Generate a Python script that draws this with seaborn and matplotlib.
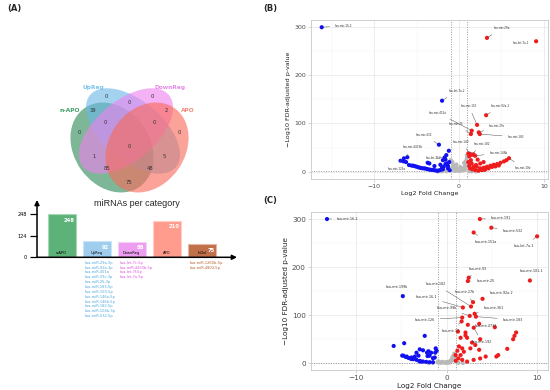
import matplotlib
matplotlib.use("Agg")
import matplotlib.pyplot as plt
import seaborn as sns
import pandas as pd
import numpy as np
from matplotlib.patches import Ellipse

sns.set_theme(style="white")
plt.rcParams['font.family'] = ['DejaVu Sans']

# ---------------- data: Venn ----------------
venn_sets = ["n-APO", "UpReg", "DownReg", "APO"]
venn_counts = [0, 0, 0, 0, 39, 0, 2, 0, 0, 0, 1, 5, 85, 48, 75]

# ---------------- data: bar chart ----------------
bar_cats = ["n-APO", "UpReg", "DownReg", "APO", "InDel"]
bar_values = [248, 92, 88, 210, 75]
bar_ticks = [0, 124, 248]
up_list = ["hsa-miR-29a-3p", "hsa-miR-92a-3p", "hsa-miR-451a", "hsa-miR-29c-3p",
           "hsa-miR-25-3p", "hsa-miR-183-5p", "hsa-miR-150-5p", "hsa-miR-146a-5p",
           "hsa-miR-146b-5p", "hsa-miR-182-5p", "hsa-miR-106b-3p", "hsa-miR-532-5p"]
down_list = ["hsa-let-7c-5p", "hsa-miR-4433b-5p", "hsa-let-7f-5p", "hsa-let-7a-5p"]
indel_list = ["hsa-miR-1260b-5p", "hsa-miR-4803-5p"]

# ---------------- data: volcano B ----------------
b_down_x = [-16.2, -2.0, -2.37, -6.9, -6.5, -6.55, -6.25, -6.1,
            -5.9, -5.6, -5.4, -5.2, -5.0, -4.8, -4.6, -4.4, -4.2, -4.0,
            -3.8, -3.6, -3.4, -3.2, -3.0, -2.8, -2.6, -2.4, -2.2, -2.0,
            -1.9, -1.8, -1.7, -1.6, -1.5, -1.4, -1.3, -1.2, -1.15,
            -3.7, -3.5, -2.9, -2.2, -1.9, -1.6, -1.3, -1.1]
b_down_y = [299, 147, 56, 22.8, 27.7, 21.5, 20, 30,
            13.9, 12.8, 12.5, 11.5, 10.4, 9.2, 8.3, 7.5, 7.0, 6.9,
            5.8, 4.9, 4.2, 3.8, 3.5, 2.8, 2.1, 2.5, 3.5, 8.3,
            24, 10.4, 29.5, 16, 34.4, 17.2, 6.9, 43.4, 20,
            18.6, 17.2, 11.8, 14.5, 5, 25, 12, 3]
b_up_x = [3.3, 9.1, 3.2, 2.13, 2.33, 2.45, 1.5, 1.4, 5.9,
          1.1, 1.3, 1.5, 1.7, 1.2, 1.9,
          2.49, 2.1, 2.9, 3.3, 3.7, 4.1, 4.5, 4.9, 5.3, 5.6,
          1.5, 1.4, 1.7, 1.9, 2.3, 2.7, 3.1, 3.5, 3.9, 4.3, 4.7, 1.3, 1.55, 2.0, 2.5, 2.9,
          1.1, 1.2, 2.2, 3.0]
b_up_y = [277, 270, 117, 97, 81.5, 78, 85, 78, 28,
          38, 37, 35, 36, 32, 33,
          7, 10.4, 8.3, 10.4, 12.5, 14.5, 15.9, 18.6, 21.4, 24,
          17, 24, 10, 3.5, 2, 3.5, 5, 7, 10, 11, 13, 7, 5, 14, 17, 20,
          20, 12, 25, 4]
b_ns_x = [-1.0, -0.9, -0.8, -0.7, -0.6, -0.5, -0.4, -0.3, -0.2, -0.1,
          0.0, 0.1, 0.2, 0.3, 0.4, 0.5, 0.6, 0.7, 0.8, 0.9,
          -0.97, -0.77, -0.65, 0.14, 0.73, 0.93, 0.93, 0.33, -0.26, -0.45,
          -1.5, -2.0, -2.5, 1.2, 1.5, 2.0, 0.6, -0.3, 0.8, 1.0]
b_ns_y = [6, 4, 8, 3, 5, 2, 7, 3, 4, 2,
          3, 5, 2, 6, 4, 3, 8, 5, 10, 12,
          24, 20, 13, 10, 14, 28, 34, 7, 7, 3.5,
          1, 0.8, 0.5, 1, 0.8, 0.5, 18, 15, 22, 16]
b_lab_names = ["hsa-mir-16-2", "hsa-mir-29a", "hsa-let-7a-1", "hsa-let-7a-2", "hsa-mir-150",
               "hsa-mir-92a-2", "hsa-mir-451a", "hsa-mir-29c", "hsa-mir-25", "hsa-mir-183",
               "hsa-mir-432", "hsa-mir-182", "hsa-mir-140", "hsa-mir-4433b", "hsa-mir-146b",
               "hsa-let-7f-2", "hsa-mir-125a", "hsa-mir-10b"]
b_lab_px = [-16.2, 3.3, 9.1, -2.0, 2.13, 3.2, 1.5, 2.33, 1.4, 2.45, -2.37, 1.5, 1.3, -6.25, 1.9, -1.7, -6.9, 5.9]
b_lab_py = [299, 277, 270, 147, 97, 117, 85, 81.5, 78, 78, 56, 35, 37, 30, 33, 29.5, 22.8, 28]
b_lab_tx = [-13.6, 5.05, 7.3, -0.28, 1.15, 4.85, -2.45, 4.5, -0.3, 6.7, -4.1, 2.7, 0.2, -5.5, 4.65, -3.0, -7.4, 7.6]
b_lab_ty = [302, 297, 266, 167, 136, 136, 122, 95, 99, 72, 76, 58, 62, 51, 38.7, 27.7, 5.6, 7]

# ---------------- data: volcano C ----------------
c_down_x = [-13.2, -4.83, -2.41, -4.68, -5.84,
            -4.76, -4.4, -4.04, -3.68, -3.32, -2.96, -2.6, -2.24, -1.87, -1.5,
            -3.32, -2.96, -2.6, -2.16, -2.0, -1.7, -2.1, -1.2, -1.1, -1.25,
            -3.1, -3.5, -1.5, -1.87, -3.86,
            -4.9, -4.5, -4.2, -3.9, -3.0, -2.8, -1.3]
c_down_y = [300, 139.6, 57, 41.7, 36,
            15.8, 14, 10.5, 8.5, 7.1, 5, 3.6, 2.9, 2.2, 2.2,
            22, 29, 27, 22, 25, 22, 15, 31, 26, 22,
            15.8, 14, 10.5, 15.8, 12,
            16, 13, 11, 9, 4, 3.5, 12]
c_up_x = [3.68, 4.94, 2.99, 10.0, 2.45, 2.35, 9.2, 3.97, 2.92, 2.70,
          1.8, 3.1, 3.24, 2.56, 1.73, 1.66, 2.35, 3.6, 3.0, 5.33,
          7.68, 7.5, 7.35, 1.26, 2.09, 2.09, 1.55, 2.27, 3.71, 2.81,
          3.17, 1.37, 1.73, 1.19, 1.91, 1.55, 2.63, 3.6, 4.32, 3.71,
          1.73, 2.27, 5.5, 5.7, 6.7, 1.0, 1.3, 2.99, 1.01]
c_up_y = [300, 282, 272, 264, 178, 171, 172, 134, 127, 118,
          116, 103, 97, 98.5, 95, 87, 80, 82, 74, 75,
          64, 57, 50, 66, 64, 58, 53, 53, 50, 43,
          38, 35, 31, 26, 24, 17, 31, 28, 14, 10,
          7, 3.5, 14, 17, 30, 17, 10, 7, 5]
c_ns_x = [-1.0, -0.8, -0.6, -0.4, -0.2, 0.0, 0.2, 0.4, 0.5, 0.6,
          0.7, 0.75, 0.8, 0.85, 0.9, 0.95, 0.65, 0.55, 0.45, 0.35,
          -0.9, -0.5, -0.1, 0.1, 0.3, -1.5, -2.0, 1.3, 1.8]
c_ns_y = [2, 1.5, 1, 2, 1.5, 2.5, 3, 4, 6, 8,
          10, 14, 17, 20, 12, 9, 13, 5, 3, 2,
          4, 3, 1, 1, 1.5, 0.8, 0.5, 0.9, 0.4]
c_lab_names = ["hsa-mir-16-2", "hsa-mir-191", "hsa-mir-532", "hsa-mir-151a", "hsa-let-7a-1",
               "hsa-mir-93", "hsa-mir-25", "hsa-mir-101-1", "hsa-mir-199b", "hsa-mir-182",
               "hsa-mir-92a-2", "hsa-mir-27b", "hsa-mir-16-1", "hsa-mir-361", "hsa-mir-99b",
               "hsa-mir-183", "hsa-mir-126", "hsa-mir-4732", "hsa-mir-17", "hsa-mir-192"]
c_lab_px = [-13.2, 3.68, 4.94, 2.99, 10.0, 2.45, 2.35, 9.2, -4.83, 2.70,
            3.97, 2.92, 1.8, 3.1, 2.56, 3.24, 1.73, 2.35, 1.66, 3.0]
c_lab_py = [300, 300, 282, 272, 264, 178, 171, 172, 139.6, 118,
            134, 127, 116, 103, 98.5, 97, 95, 80, 87, 74]
c_lab_tx = [-10.9, 6.0, 7.3, 4.36, 8.6, 3.5, 4.3, 9.4, -5.5, -1.15,
            6.05, 2.0, -2.2, 5.2, 0.0, 7.3, -2.4, 4.3, 0.47, 3.9]
c_lab_ty = [301, 302, 276, 252, 244, 197, 171, 192, 158, 164,
            147, 148, 138, 115, 115, 91, 91, 78, 67, 44]

# ---------------- figure ----------------
W, H = 550, 390
fig = plt.figure(figsize=(W / 100, H / 100), dpi=100)

# ---- Venn diagram (pixel coordinates) ----
axv = fig.add_axes([0, 0, 280 / W, 1])
axv.set_xlim(0, 280)
axv.set_ylim(390, 0)
axv.set_aspect("equal", adjustable="datalim")
axv.axis("off")
venn_colors = ["#2E8B57", "#6CB8E6", "#EE82EE", "#FA6A5A"]
# (cx, cy, width, height, angle)
venn_geom = [(112, 147.5, 96, 76, 55), (133, 131, 112, 60, 40),
             (126, 131, 112, 60, 140), (147, 147.5, 96, 76, 125)]
for (cx, cy, w, h, ang), col in zip(venn_geom, venn_colors):
    axv.add_patch(Ellipse((cx, cy), w, h, angle=ang, fc=col, alpha=0.62, ec="none"))
venn_pos = [(79, 132), (106, 97), (152, 97), (179, 132), (93, 111), (129, 102), (166, 111),
            (105, 123), (154, 123), (129, 146), (94, 157), (164, 157), (107, 168), (150, 168), (129, 182)]
for (px, py), n in zip(venn_pos, venn_counts):
    axv.text(px, py, str(n), ha="center", va="center", fontsize=3.8, color="#333333")
venn_lab_pos = [(70, 111), (93, 87), (170, 87), (188, 111)]
venn_lab_cols = ["#3FA066", "#7EC3EE", "#E58AE8", "#F58A7C"]
for (px, py), name, col in zip(venn_lab_pos, venn_sets, venn_lab_cols):
    axv.text(px, py, name, ha="center", va="center", fontsize=4.2, color=col, fontweight="bold")

# panel labels
fig.text(7 / W, 1 - 9 / H, "(A)", fontsize=6, fontweight="bold", va="center")
fig.text(263 / W, 1 - 9 / H, "(B)", fontsize=6, fontweight="bold", va="center")
fig.text(263 / W, 1 - 201 / H, "(C)", fontsize=6, fontweight="bold", va="center")

# ---- bar chart ----
x0, x1, ytop, ybase = 37, 237, 200, 257.3
axb = fig.add_axes([x0 / W, 1 - ybase / H, (x1 - x0) / W, (ybase - ytop) / H])
bar_cols = ["#5DB27A", "#9ECDEE", "#EE9EF0", "#FF9C8E", "#C0714A"]
bar_edges = ["#A6D8B6", "#CDE6F7", "#F7CEF8", "#FFCFC7", "#E0B8A4"]
sns.barplot(x=bar_cats, y=bar_values, hue=bar_cats, palette=bar_cols, legend=False,
            saturation=1, width=0.8, ax=axb)
for p, ec in zip(axb.patches, bar_edges):
    p.set_edgecolor(ec)
    p.set_linewidth(0.8)
axb.set_xlim(-0.7, 5.0)
axb.set_ylim(0, 330)
for s in axb.spines.values():
    s.set_visible(False)
axb.set_yticks(bar_ticks)
axb.set_yticklabels([str(t) for t in bar_ticks])
axb.tick_params(axis="y", length=5, width=0.9, direction="out", labelsize=3.6, pad=2, colors="black", left=True)
axb.tick_params(axis="x", bottom=False, labelbottom=False)
axb.set_xlabel("")
axb.set_ylabel("")
axb.annotate("", xy=(1.0, 0), xytext=(0, 0), xycoords="axes fraction",
             arrowprops=dict(arrowstyle="-|>", color="black", lw=1.1, mutation_scale=7, shrinkA=0, shrinkB=0),
             annotation_clip=False)
axb.annotate("", xy=(0, 1.0), xytext=(0, 0), xycoords="axes fraction",
             arrowprops=dict(arrowstyle="-|>", color="black", lw=1.1, mutation_scale=7, shrinkA=0, shrinkB=0),
             annotation_clip=False)
for i, (c, v) in enumerate(zip(bar_cats, bar_values)):
    axb.annotate(str(v), xy=(i + 0.36, v), xytext=(0, -2.5), textcoords="offset points",
                 ha="right", va="top", fontsize=3.8, color="white", fontweight="bold")
    axb.annotate(c, xy=(i, 0), xytext=(0, 1.8), textcoords="offset points",
                 ha="center", va="bottom", fontsize=2.6, color="black")
axb.set_title("miRNAs per category", fontsize=6.5, pad=0, y=0.90,
              family=["Liberation Sans Narrow", "Liberation Sans", "DejaVu Sans"])
for idx, lst, col in [(1, up_list, "#4FA8E0"), (2, down_list, "#E052E0"), (4, indel_list, "#B8602F")]:
    for k, name in enumerate(lst):
        axb.annotate(name, xy=(idx - 0.4, 0), xytext=(1.2, -3.9 - 3.5 * k), textcoords="offset points",
                     ha="left", va="center", fontsize=2.6, color=col, annotation_clip=False)


# ---- volcano plots ----
def volcano(ax, dx, dy, ux, uy, nx, ny, names, lpx, lpy, ltx, lty, xlim, ylim, fs_lab, fs_tick, fs_title):
    df = pd.concat([
        pd.DataFrame({"log2fc": nx, "p": ny, "status": "ns"}),
        pd.DataFrame({"log2fc": dx, "p": dy, "status": "down"}),
        pd.DataFrame({"log2fc": ux, "p": uy, "status": "up"}),
    ], ignore_index=True)
    ax.set_facecolor("white")
    ax.set_axisbelow(True)
    sns.scatterplot(data=df, x="log2fc", y="p", hue="status",
                    palette={"ns": "#B9B9B9", "down": "#1010F0", "up": "#EE1C1C"},
                    s=9, linewidth=0, legend=False, ax=ax, zorder=3)
    ax.set_xlim(*xlim)
    ax.set_ylim(*ylim)
    ax.set_xticks([-10, 0, 10])
    ax.set_xticklabels(["\u221210", "0", "10"])
    ax.set_yticks([0, 100, 200, 300])
    ax.set_xticks([-15, -5, 5], minor=True)
    ax.set_yticks([50, 150, 250], minor=True)
    ax.grid(which="major", color="#E3E3E3", lw=0.45)
    ax.grid(which="minor", color="#F1F1F1", lw=0.3)
    for s in ax.spines.values():
        s.set_color("#C8C8C8")
        s.set_linewidth(0.6)
    ax.tick_params(which="major", length=2, width=0.4, color="#B0B0B0", labelsize=fs_tick,
                   labelcolor="#4D4D4D", pad=1.5, bottom=True, left=True)
    ax.tick_params(which="minor", length=0)
    for xv in (-1, 1):
        ax.axvline(xv, color="#777777", lw=0.55, ls=(0, (1.2, 2.0)), zorder=2)
    ax.axhline(-np.log10(0.05), color="#777777", lw=0.55, ls=(0, (1.2, 2.0)), zorder=2)
    for nm, px, py, tx, ty in zip(names, lpx, lpy, ltx, lty):
        ax.annotate(nm, xy=(px, py), xytext=(tx, ty), fontsize=fs_lab, color="#333333",
                    ha="center", va="center", zorder=4,
                    arrowprops=dict(arrowstyle="-", color="#555555", lw=0.35, shrinkA=1.5, shrinkB=1))
    ax.set_xlabel("Log2 Fold Change", fontsize=fs_title, labelpad=1.5, color="#222222")
    ax.set_ylabel("\u2212Log10 FDR-adjusted p-value", fontsize=fs_title, labelpad=2, color="#222222")


axB = fig.add_axes([310.7 / W, 1 - 179 / H, (548 - 310.7) / W, (179 - 20) / H])
volcano(axB, b_down_x, b_down_y, b_up_x, b_up_y, b_ns_x, b_ns_y,
        b_lab_names, b_lab_px, b_lab_py, b_lab_tx, b_lab_ty,
        (-17.5, 10.5), (-15, 314), 2.0, 4.5, 4.6)

axC = fig.add_axes([310.7 / W, 1 - 370 / H, (548 - 310.7) / W, (370 - 212.3) / H])
volcano(axC, c_down_x, c_down_y, c_up_x, c_up_y, c_ns_x, c_ns_y,
        c_lab_names, c_lab_px, c_lab_py, c_lab_tx, c_lab_ty,
        (-14.4, 11.2), (-14, 314), 2.4, 5.2, 5.2)

fig.savefig("out.png", dpi=100)
